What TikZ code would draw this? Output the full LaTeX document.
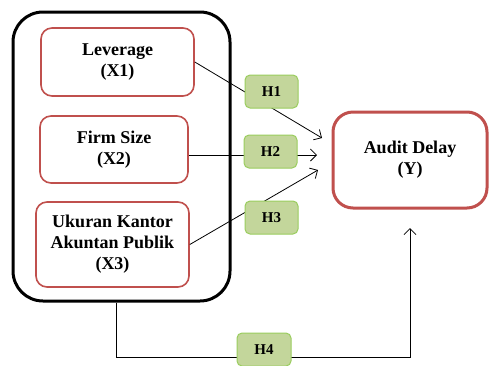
\documentclass[tikz,border=0pt]{standalone}
\usepackage{fontspec}
\setmainfont{Liberation Serif}
\usetikzlibrary{arrows.meta,calc}

\definecolor{varred}{HTML}{C0504D}
\definecolor{hypfill}{HTML}{C3D69B}
\definecolor{hypline}{HTML}{9ACD5E}

\tikzset{
  outerbox/.style={draw=black, line width=3pt, rounded corners=30pt,
    minimum width=217pt, minimum height=289pt, inner sep=0pt},
  varbox/.style={draw=varred, line width=1.6pt, rounded corners=11pt, fill=white,
    align=center, inner sep=0pt,
    font=\fontsize{18}{21}\selectfont\bfseries},
  hypbox/.style={draw=hypline, line width=1pt, fill=hypfill, rounded corners=5pt,
    minimum width=53pt, minimum height=33pt, inner sep=0pt,
    font=\fontsize{15}{17}\selectfont\bfseries},
  link/.style={draw=black, line width=0.8pt},
  linkarrow/.style={link, -{Straight Barb[length=6pt,width=12pt,line width=0.8pt]}}
}

\begin{document}
\begin{tikzpicture}[x=1pt, y=-1pt]
  \useasboundingbox[fill=white] (0,0) rectangle (490,365);

  % the group of independent variables
  \node[outerbox] (outer) at (121.5,156.5) {};

  \node[varbox, minimum width=153pt, minimum height=68pt] (X1) at (117.5,62) {Leverage\\(X1)};
  \node[varbox, minimum width=148pt, minimum height=67pt] (X2) at (114,149.5) {Firm Size\\(X2)};
  \node[varbox, minimum width=153pt, minimum height=85pt] (X3) at (112.5,244.5) {Ukuran Kantor\\Akuntan Publik\\(X3)};

  % dependent variable
  \node[varbox, line width=3pt, rounded corners=20pt, minimum width=154pt, minimum height=96pt] (Y) at (410,160) {Audit Delay\\(Y)};

  % arrow ends
  \coordinate (t1) at (322,138);
  \coordinate (t2) at (317,155);
  \coordinate (t3) at (318,170);
  \coordinate (t4) at (410,228);
  \coordinate (c4a) at (116,357);
  \coordinate (c4b) at (410,357);

  % partial effects
  \draw[linkarrow] (X1.east) -- (t1);
  \draw[linkarrow] (X2.east |- t2) -- (t2);
  \draw[linkarrow] (X3.east) -- (t3);

  % joint effect
  \draw[linkarrow] (outer.south -| c4a) -- (c4a) -- (c4b) -- (t4);

  % hypothesis labels
  \node[hypbox] (H1) at (271.5,91.5) {H1};
  \node[hypbox] (H2) at (270.5,151.5) {H2};
  \node[hypbox] (H3) at (271.5,217.5) {H3};
  \node[hypbox, minimum width=54pt] (H4) at (264,349.5) {H4};
\end{tikzpicture}
\end{document}
